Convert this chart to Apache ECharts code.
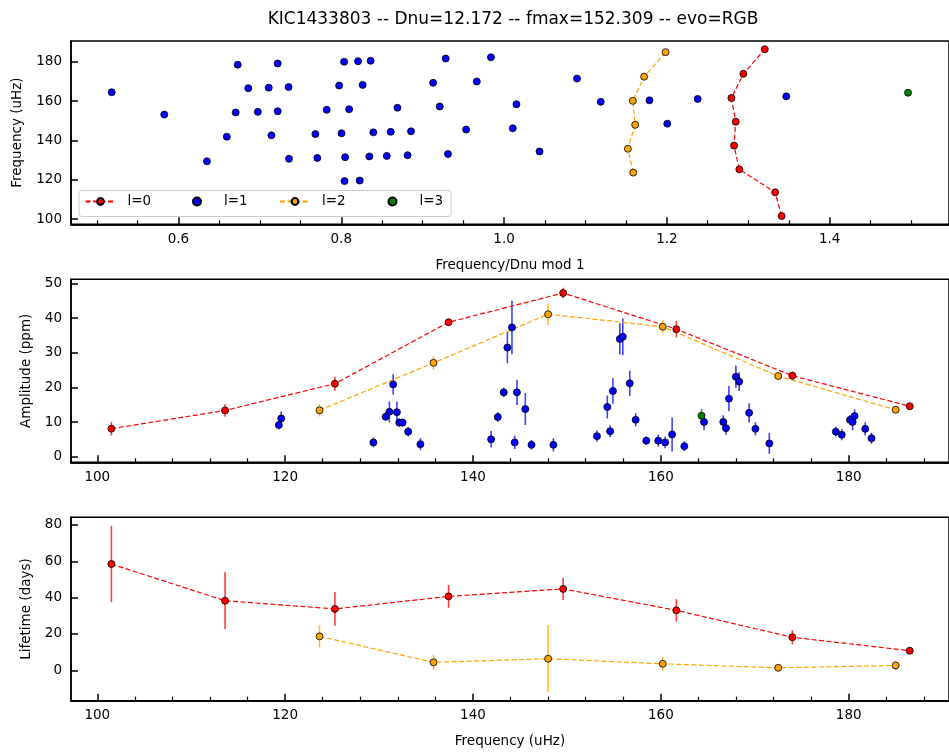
<!DOCTYPE html>
<html>
<head>
<meta charset="utf-8">
<title>KIC1433803</title>
<script src="https://cdn.jsdelivr.net/npm/echarts@6/dist/echarts.min.js"></script>
<style>
html, body { margin: 0; padding: 0; background: #fff; }
#chart { width: 949px; height: 753px; }
</style>
</head>
<body>
<div id="chart"></div>
<script>
// l=0 modes
var l0Freq = [101.5, 113.6, 125.3, 137.4, 149.6, 161.65, 174.0, 186.5];
var l0Echelle = [1.341, 1.333, 1.289, 1.2825, 1.2846, 1.2793, 1.294, 1.3203];
var l0Amp = [8.15, 13.4, 21.1, 38.8, 47.2, 36.8, 23.4, 14.6];
var l0AmpErr = [2.0, 1.8, 2.0, 0.6, 1.5, 2.4, 1.2, 0.6];
var l0Life = [58.5, 38.3, 33.8, 40.7, 44.8, 33.0, 18.2, 10.8];
var l0LifeErr = [21.0, 15.6, 9.3, 6.3, 6.1, 6.2, 3.9, 1.8];

// l=1 modes
var l1Freq = [119.33, 119.58, 129.4, 130.7, 131.1, 131.5, 131.9, 132.15, 132.5, 133.1, 134.4,
  141.93, 142.64, 143.27, 143.66, 144.15, 144.44, 144.68, 145.57, 146.23, 148.56,
  153.2, 154.3, 154.6, 154.9, 155.63, 155.95, 156.69, 157.32, 158.45, 159.72, 160.46, 161.2, 162.5, 164.6,
  166.65, 166.94, 167.25, 167.99, 168.34, 169.4, 170.07, 171.55,
  178.63, 179.26, 180.14, 180.42, 180.63, 181.76, 182.43];
var l1Echelle = [0.804, 0.8227, 0.635, 0.7358, 0.7706, 0.8048, 0.8345, 0.8559, 0.8815, 0.9311, 1.0436,
  0.6594, 0.7142, 0.7682, 0.8004, 0.8394, 0.8608, 0.8857, 0.9534, 1.0107, 1.2005,
  0.5826, 0.6703, 0.6975, 0.7219, 0.7821, 0.8097, 0.869, 0.921, 1.0152, 1.1188, 1.1786, 1.2379, 1.3467, 0.518,
  0.6858, 0.7109, 0.7353, 0.7974, 0.8263, 0.9129, 0.9665, 1.0896,
  0.6728, 0.7219, 0.8035, 0.8206, 0.8361, 0.9283, 0.9839];
var l1Amp = [9.2, 11.1, 4.2, 11.6, 13.0, 20.9, 12.9, 9.9, 9.9, 7.3, 3.7,
  5.1, 11.5, 18.6, 31.5, 37.3, 4.2, 18.6, 13.8, 3.5, 3.5,
  6.0, 14.4, 7.4, 19.0, 34.0, 34.6, 21.2, 10.7, 4.7, 4.7, 4.2, 6.5, 3.1, 10.1,
  10.1, 8.3, 16.8, 23.1, 21.7, 12.7, 8.1, 3.9,
  7.3, 6.4, 10.7, 10.1, 11.8, 8.1, 5.4];
var l1AmpErr = [1.2, 2.0, 1.4, 1.2, 3.0, 2.9, 3.0, 1.2, 1.2, 1.4, 1.7,
  2.4, 1.4, 1.4, 4.5, 7.7, 1.9, 3.6, 4.6, 1.4, 1.9,
  1.6, 3.3, 1.7, 3.7, 4.5, 5.3, 3.6, 1.9, 1.2, 1.7, 1.7, 4.9, 1.4, 2.4,
  1.9, 1.9, 3.6, 3.2, 2.7, 2.8, 1.9, 3.0,
  1.4, 1.6, 1.4, 2.4, 1.9, 1.9, 1.6];

// l=2 modes
var l2Freq = [123.66, 135.8, 148.0, 160.2, 172.5, 185.0];
var l2Echelle = [1.1587, 1.1521, 1.1611, 1.1582, 1.1721, 1.1984];
var l2Amp = [13.45, 27.1, 41.1, 37.5, 23.3, 13.6];
var l2AmpErr = [1.8, 2.0, 3.1, 1.9, 0.6, 0.6];
var l2Life = [18.7, 4.4, 6.4, 3.6, 1.4, 2.7];
var l2LifeErr = [6.2, 4.2, 18.5, 3.9, 0.6, 2.7];

// l=3 modes
var l3Freq = [164.33];
var l3Echelle = [1.4963];
var l3Amp = [11.9];
var l3AmpErr = [1.9];

// ticks
var echelleTicks = [0.6, 0.8, 1.0, 1.2, 1.4];
var echelleMinor = [0.5, 0.55, 0.65, 0.7, 0.75, 0.85, 0.9, 0.95, 1.05, 1.1, 1.15, 1.25, 1.3, 1.35, 1.45, 1.5];
var freqTicks = [100, 120, 140, 160, 180];
var freqMinor = [104, 108, 112, 116, 124, 128, 132, 136, 144, 148, 152, 156, 164, 168, 172, 176, 184, 188];
var ampTicks = [0, 10, 20, 30, 40, 50];
var lifeTicks = [0, 20, 40, 60, 80];

var legendNames = ['l=0', 'l=1', 'l=2', 'l=3'];

var font = 'DejaVu Sans';
var ink = '#000';
var red = '#ff0000', blue = '#0000ff', orange = '#ffa500', green = '#008000';

function zip(a, b) {
    return a.map(function (v, i) { return [v, b[i]]; });
}
function zip3(a, b, c) {
    return a.map(function (v, i) { return [v, b[i], c[i]]; });
}

function xMain(grid, min, max, ticks, fmt, name) {
    return {
        type: 'value', gridIndex: grid, min: min, max: max, position: 'bottom',
        axisLine: { show: true, onZero: false, lineStyle: { color: ink, width: 1.5 } },
        splitLine: { show: false },
        axisTick: { show: true, inside: true, length: 7, customValues: ticks,
            lineStyle: { color: ink, width: 1.5 } },
        axisLabel: { show: true, customValues: ticks, margin: 8, color: ink,
            fontFamily: font, fontSize: 13.5, formatter: fmt },
        name: name, nameLocation: 'middle', nameGap: 34,
        nameTextStyle: { fontFamily: font, fontSize: 13.5, color: ink }
    };
}
function xMinor(grid, min, max, ticks) {
    return {
        type: 'value', gridIndex: grid, min: min, max: max, position: 'bottom',
        axisLine: { show: true, onZero: false, lineStyle: { color: ink, width: 1.5 } },
        splitLine: { show: false },
        axisLabel: { show: false },
        axisTick: { show: true, inside: true, length: 4, customValues: ticks,
            lineStyle: { color: ink, width: 1.2 } }
    };
}
function yMain(grid, min, max, ticks, name, gap) {
    return {
        type: 'value', gridIndex: grid, min: min, max: max, position: 'left',
        axisLine: { show: true, onZero: false, lineStyle: { color: ink, width: 1.5 } },
        splitLine: { show: false },
        axisTick: { show: true, inside: true, length: 7, customValues: ticks,
            lineStyle: { color: ink, width: 1.5 } },
        axisLabel: { show: true, customValues: ticks, margin: 9, color: ink,
            fontFamily: font, fontSize: 13.5 },
        name: name, nameLocation: 'middle', nameGap: gap,
        nameTextStyle: { fontFamily: font, fontSize: 13.5, color: ink }
    };
}

function errRender(params, api) {
    var x = api.value(0), y = api.value(1), e = api.value(2);
    var p1 = api.coord([x, y - e]);
    var p2 = api.coord([x, y + e]);
    return {
        type: 'line',
        shape: { x1: p1[0], y1: p1[1], x2: p2[0], y2: p2[1] },
        style: { stroke: api.visual('color'), lineWidth: 1.6, opacity: 0.75 }
    };
}
function errSeries(name, xi, yi, data, color) {
    return {
        name: name, type: 'custom', xAxisIndex: xi, yAxisIndex: yi,
        renderItem: errRender, data: data, itemStyle: { color: color },
        encode: { x: 0, y: 1 }, z: 1, silent: true
    };
}
function lineSeries(name, xi, yi, data, color) {
    return {
        name: name, type: 'line', xAxisIndex: xi, yAxisIndex: yi, data: data,
        symbol: 'circle', symbolSize: 7, showAllSymbol: true,
        lineStyle: { color: color, width: 1.2, type: [5, 2.5] },
        itemStyle: { color: color, borderColor: '#000', borderWidth: 0.8 },
        z: 3
    };
}
function dotSeries(name, xi, yi, data, color) {
    return {
        name: name, type: 'scatter', xAxisIndex: xi, yAxisIndex: yi, data: data,
        symbol: 'circle', symbolSize: 7,
        itemStyle: { color: color, borderColor: '#000', borderWidth: 0.8, opacity: 1 },
        z: 3
    };
}

// one legend per entry so each item sits where matplotlib put it
var legendLefts = [84.5, 192, 279, 387.5];
var legends = legendNames.map(function (n, i) {
    var scatterLike = (i % 2 === 1);
    return {
        data: [n], left: legendLefts[i], top: 194.5, padding: 0, z: 11,
        itemWidth: 30, itemHeight: scatterLike ? 8 : 8.5,
        textStyle: { fontFamily: font, fontSize: 13.5, color: ink, padding: [0, 0, 0, 7] },
        selectedMode: false
    };
});

var chart = echarts.init(document.getElementById('chart'), null, { renderer: 'canvas' });

var gridStyle = { show: true, borderColor: '#000', borderWidth: 1.5, backgroundColor: 'transparent' };

var option = {
    animation: false,
    backgroundColor: '#fff',
    title: {
        text: 'KIC1433803 -- Dnu=12.172 -- fmax=152.309 -- evo=RGB',
        left: 513, top: 11, textAlign: 'center', padding: 0,
        textStyle: { fontFamily: font, fontSize: 17, fontWeight: 'normal', color: ink }
    },
    legend: legends,
    graphic: [{
        type: 'rect', z: 10, silent: true,
        shape: { x: 79, y: 190.5, width: 372, height: 26, r: 3 },
        style: { fill: 'rgba(255,255,255,0.8)', stroke: '#cccccc', lineWidth: 1 }
    }],
    grid: [
        Object.assign({ left: 71, top: 41, width: 885, height: 183.3 }, gridStyle),
        Object.assign({ left: 71, top: 279.3, width: 885, height: 183 }, gridStyle),
        Object.assign({ left: 71, top: 517.3, width: 885, height: 183.4 }, gridStyle)
    ],
    xAxis: [
        xMain(0, 0.468, 1.5466, echelleTicks, function (v) { return v.toFixed(1); }, 'Frequency/Dnu mod 1'),
        xMinor(0, 0.468, 1.5466, echelleMinor),
        xMain(1, 97.2, 190.68, freqTicks, null, ''),
        xMinor(1, 97.2, 190.68, freqMinor),
        xMain(2, 97.2, 190.68, freqTicks, null, 'Frequency (uHz)'),
        xMinor(2, 97.2, 190.68, freqMinor)
    ],
    yAxis: [
        yMain(0, 97.3, 190.7, freqTicks, 'Frequency (uHz)', 47),
        yMain(1, -1.53, 51.15, ampTicks, 'Amplitude (ppm)', 37.5),
        yMain(2, -16.7, 84.2, lifeTicks, 'Lifetime (days)', 37.5)
    ],
    series: [
        // echelle diagram
        lineSeries('l=0', 0, 0, zip(l0Echelle, l0Freq), red),
        dotSeries('l=1', 0, 0, zip(l1Echelle, l1Freq), blue),
        lineSeries('l=2', 0, 0, zip(l2Echelle, l2Freq), orange),
        dotSeries('l=3', 0, 0, zip(l3Echelle, l3Freq), green),
        // amplitudes
        errSeries('e0a', 2, 1, zip3(l0Freq, l0Amp, l0AmpErr), red),
        errSeries('e1a', 2, 1, zip3(l1Freq, l1Amp, l1AmpErr), blue),
        errSeries('e2a', 2, 1, zip3(l2Freq, l2Amp, l2AmpErr), orange),
        errSeries('e3a', 2, 1, zip3(l3Freq, l3Amp, l3AmpErr), green),
        lineSeries('l=0', 2, 1, zip(l0Freq, l0Amp), red),
        dotSeries('l=1', 2, 1, zip(l1Freq, l1Amp), blue),
        lineSeries('l=2', 2, 1, zip(l2Freq, l2Amp), orange),
        dotSeries('l=3', 2, 1, zip(l3Freq, l3Amp), green),
        // lifetimes
        errSeries('e0l', 4, 2, zip3(l0Freq, l0Life, l0LifeErr), red),
        errSeries('e2l', 4, 2, zip3(l2Freq, l2Life, l2LifeErr), orange),
        lineSeries('l=0', 4, 2, zip(l0Freq, l0Life), red),
        lineSeries('l=2', 4, 2, zip(l2Freq, l2Life), orange)
    ]
};

chart.setOption(option);
window.addEventListener('resize', function () {
    chart.resize();
});
</script>
</body>
</html>
